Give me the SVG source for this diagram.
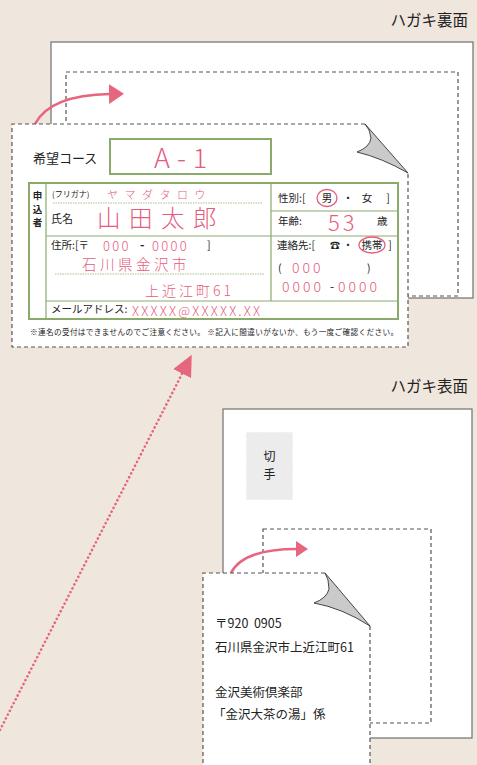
<svg xmlns="http://www.w3.org/2000/svg" width="477" height="765" viewBox="0 0 477 765">
<defs>
<style>
.t{font-family:"Noto Sans CJK JP","Noto Sans",sans-serif;fill:#222}
.p{font-family:"Noto Sans CJK JP","Noto Sans",sans-serif;fill:#e55c7d;font-weight:300}
.g{fill:none;stroke:#8aaa6c;stroke-width:2}
.gl{fill:none;stroke:#8aaa6c;stroke-width:1.2}
.gd{fill:none;stroke:#a9c08f;stroke-width:1;stroke-dasharray:1.5 1}
.dash{fill:#fff;stroke:#555;stroke-width:1.2;stroke-dasharray:4 3}
.sheet{fill:#fff;stroke:#7a7a7a;stroke-width:1.3}
.fold{fill:#c9cac9;stroke:#333;stroke-width:0.9;stroke-linejoin:round}
.arr{fill:none;stroke:#e6667e;stroke-width:2.6}
</style>
<marker id="ah" markerUnits="userSpaceOnUse" markerWidth="16" markerHeight="20" viewBox="0 0 16 20" refX="1" refY="10" orient="auto">
<path d="M0,0 L15,10 L0,20 Z" fill="#e6667e"/>
</marker>
<marker id="ah2" markerUnits="userSpaceOnUse" markerWidth="13" markerHeight="16" viewBox="0 0 13 16" refX="1" refY="8" orient="auto">
<path d="M0,0 L12,8 L0,16 Z" fill="#e6667e"/>
</marker>
<marker id="ah3" markerUnits="userSpaceOnUse" markerWidth="22" markerHeight="20" viewBox="0 0 22 20" refX="4" refY="10" orient="auto">
<path d="M0,0 L21,10 L0,20 Z" fill="#e6667e"/>
</marker>
</defs>

<rect width="477" height="765" fill="#efe7dd"/>

<!-- Back side -->
<g id="back-label"><text class="t" x="468" y="26" font-size="15.5" text-anchor="end">ハガキ裏面</text></g>
<g id="back-postcard">
<rect class="sheet" x="51" y="42" width="422" height="256"/>
<rect x="66" y="72" width="392" height="224" fill="none" stroke="#555" stroke-width="1.2" stroke-dasharray="4 3"/>
</g>

<!-- Front side -->
<g id="front-label"><text class="t" x="468" y="392" font-size="15.5" text-anchor="end">ハガキ表面</text></g>
<g id="front-postcard">
<rect class="sheet" x="223" y="409" width="249" height="329"/>
<rect x="246" y="432" width="47" height="68" fill="#ececec" stroke="#fff" stroke-width="1.2" stroke-dasharray="1.5 1.5"/>
<text class="t" x="269.500" y="461" font-size="12" text-anchor="middle">切</text>
<text class="t" x="269.500" y="479" font-size="12" text-anchor="middle">手</text>
<rect x="263" y="529" width="168" height="194" fill="none" stroke="#555" stroke-width="1.2" stroke-dasharray="4 3"/>
</g>

<!-- Connectors -->
<g id="connectors">
<path class="arr" d="M35,124 Q50,95 110,94" marker-end="url(#ah)"/>
<path class="arr" d="M231,573 Q243,549 297,549" stroke-width="2.3" marker-end="url(#ah2)"/>
<path d="M0,730 L184,370" fill="none" stroke="#e6667e" stroke-width="2.6" stroke-dasharray="0.1 4.2" stroke-linecap="round" marker-end="url(#ah3)"/>
</g>

<!-- Form card (back) -->
<g id="form-card">
<path d="M365,124 L12,124 L12,347 L408,347 L408,173" class="dash"/>
<path class="fold" d="M365,124 L408,173 Q382,158 357,152 Q370,147 371,138 Q370,129 365,124 Z"/>
<text class="t" x="33" y="163" font-size="13">希望コース</text>
<rect class="g" x="110" y="139" width="161" height="35"/>
<text class="p" x="154" y="168" font-size="27" letter-spacing="7">A-1</text>

<rect class="g" x="29" y="183" width="369" height="136"/>
<line class="gl" x1="46" y1="183" x2="46" y2="319"/>
<line class="gl" x1="271" y1="183" x2="271" y2="301"/>
<line class="gl" x1="271" y1="211" x2="398" y2="211"/>
<line class="gl" x1="46" y1="236" x2="398" y2="236"/>
<line class="gl" x1="46" y1="301" x2="398" y2="301"/>
<line class="gd" x1="53" y1="203" x2="262" y2="203"/>
<line class="gd" x1="55" y1="274" x2="265" y2="274"/>

<text class="t" x="37.500" y="199" font-size="9.5" font-weight="bold" text-anchor="middle">申</text>
<text class="t" x="37.500" y="212.500" font-size="9.5" font-weight="bold" text-anchor="middle">込</text>
<text class="t" x="37.500" y="226" font-size="9.5" font-weight="bold" text-anchor="middle">者</text>

<text class="t" x="52" y="197" font-size="8">(フリガナ)</text>
<text class="p" x="107" y="199" font-size="11" letter-spacing="6.5">ヤマダタロウ</text>
<text class="t" x="51" y="223" font-size="11">氏名</text>
<text class="p" x="97" y="227" font-size="23.5" letter-spacing="8.5">山田太郎</text>

<text class="t" x="278" y="202" font-size="10.5">性別:[</text>
<text class="t" x="327" y="202" font-size="10.5" text-anchor="middle">男</text>
<ellipse cx="327" cy="198" rx="10" ry="8.5" fill="none" stroke="#e55c7d" stroke-width="1.3"/>
<text class="t" x="348" y="202" font-size="10.5" text-anchor="middle">・</text>
<text class="t" x="367" y="202" font-size="10.5" text-anchor="middle">女</text>
<text class="t" x="388" y="202" font-size="10.5" text-anchor="middle">]</text>

<text class="t" x="278" y="225" font-size="10.5">年齢:</text>
<text class="p" x="328" y="231" font-size="22" letter-spacing="3">53</text>
<text class="t" x="377" y="225" font-size="10.5">歳</text>

<text class="t" x="51" y="249" font-size="10.5">住所:[〒</text>
<text class="p" x="103" y="251" font-size="13" letter-spacing="2.3">000</text>
<text class="t" x="140" y="249" font-size="12" font-weight="bold">-</text>
<text class="p" x="152" y="251" font-size="13" letter-spacing="2.3">0000</text>
<text class="t" x="207" y="249" font-size="10.5">]</text>
<text class="p" x="82" y="270" font-size="14.5" letter-spacing="3.5">石川県金沢市</text>
<text class="p" x="145" y="296" font-size="14" letter-spacing="3">上近江町61</text>

<text class="t" x="277" y="249" font-size="10.5">連絡先:[</text>
<text class="t" x="335" y="249" font-size="10" font-weight="bold" text-anchor="middle">☎</text>
<text class="t" x="348" y="249" font-size="10.5" text-anchor="middle">・</text>
<text class="t" x="372" y="249" font-size="10.5" text-anchor="middle">携帯</text>
<ellipse cx="372" cy="245" rx="13" ry="8" fill="none" stroke="#e55c7d" stroke-width="1.3"/>
<text class="t" x="390" y="249" font-size="10.5" text-anchor="middle">]</text>

<text class="t" x="278" y="272" font-size="10.5">(</text>
<text class="p" x="292" y="273" font-size="14" letter-spacing="3">000</text>
<text class="t" x="367" y="272" font-size="10.5">)</text>
<text class="p" x="282" y="292" font-size="14" letter-spacing="3">0000</text>
<text class="t" x="330" y="291" font-size="12">-</text>
<text class="p" x="338" y="292" font-size="14" letter-spacing="3">0000</text>

<text class="t" x="51" y="313" font-size="10.5">メールアドレス:</text>
<text class="p" x="132" y="316" font-size="13" letter-spacing="2.2">XXXXX@XXXXX.XX</text>

<text class="t" x="30" y="335" font-size="7.6" fill="#444" textLength="368" lengthAdjust="spacing">※連名の受付はできませんのでご注意ください。 ※記入に間違いがないか、もう一度ご確認ください。</text>
</g>

<!-- Address card (front) -->
<g id="address-card">
<rect x="203" y="573" width="167" height="197" fill="#fff"/>
<path d="M325,573 L203,573 L203,770 M370,626 L370,770" fill="none" stroke="#555" stroke-width="1.2" stroke-dasharray="4 3"/>
<path class="fold" d="M325,573 L370,626 Q342,608 314,603 Q327,598 329,589 Q329,579 325,573 Z"/>
<text class="t" x="215" y="628" font-size="12.5" xml:space="preserve">〒920  0905</text>
<text class="t" x="215" y="652" font-size="12.5">石川県金沢市上近江町61</text>
<text class="t" x="215" y="697" font-size="12.5">金沢美術倶楽部</text>
<text class="t" x="213" y="719" font-size="12.5">「金沢大茶の湯」係</text>
</g>
</svg>
